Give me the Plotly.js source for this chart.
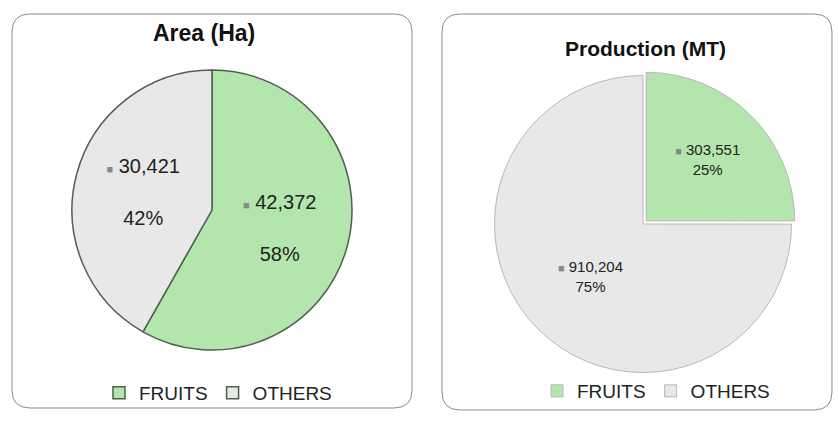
<!DOCTYPE html>
<html><head><meta charset="utf-8">
<script src="https://cdn.plot.ly/plotly-3.0.1.min.js"></script>
<style>html,body{margin:0;padding:0;background:#fff}#chart{width:838px;height:421px}</style>
</head><body><div id="chart"></div>
<script>
const categories = ["FRUITS", "OTHERS"];
const areaValues = [42372, 30421];
const productionValues = [303551, 910204];
const chartTitles = ["Area (Ha)", "Production (MT)"];

const W = 838, H = 421;
const colors = ["#b2e6ac", "#e8e8e8"];
const FONT = "Liberation Sans, Arial, sans-serif";

// pie legends merge items by label; a zero-width char keeps the second legend separate
const categories2 = categories.map(c => c + "\u200b");

function roundRect(x0, y0, x1, y1, r) {
  const px = v => (v / W).toFixed(5);
  const py = v => (1 - v / H).toFixed(5);
  return `M ${px(x0 + r)},${py(y0)} L ${px(x1 - r)},${py(y0)} Q ${px(x1)},${py(y0)} ${px(x1)},${py(y0 + r)} ` +
         `L ${px(x1)},${py(y1 - r)} Q ${px(x1)},${py(y1)} ${px(x1 - r)},${py(y1)} ` +
         `L ${px(x0 + r)},${py(y1)} Q ${px(x0)},${py(y1)} ${px(x0)},${py(y1 - r)} ` +
         `L ${px(x0)},${py(y0 + r)} Q ${px(x0)},${py(y0)} ${px(x0 + r)},${py(y0)} Z`;
}

const key = "<span style='color:#8a8a8a;font-size:11px'>■</span> ";

const traces = [
  {
    type: "pie", labels: categories, values: areaValues, sort: false,
    direction: "clockwise", rotation: 0,
    domain: {x: [70 / W, 354 / W], y: [1 - 350 / H, 1 - 70 / H]},
    marker: {colors: colors, line: {color: "#4f5f4f", width: 1.5}},
    texttemplate: key + "%{value:,}<br><br>%{percent:.0%}",
    textposition: "inside", insidetextorientation: "horizontal",
    textfont: {family: FONT, size: 20, color: "#222"},
    hoverinfo: "label+value+percent",
    legend: "legend", showlegend: true
  },
  {
    type: "pie", labels: categories2, values: productionValues, sort: false,
    direction: "clockwise", rotation: 0, pull: [0.03, 0],
    domain: {x: [490 / W, 796 / W], y: [1 - 377 / H, 1 - 71 / H]},
    marker: {colors: colors, line: {color: "#b8b8b8", width: 1}},
    texttemplate: key + "%{value:,}<br>%{percent:.0%}",
    textposition: "inside", insidetextorientation: "horizontal",
    textfont: {family: FONT, size: 15, color: "#222"},
    hoverinfo: "label+value+percent",
    legend: "legend2", showlegend: true
  }
];

const layout = {
  width: W, height: H,
  margin: {l: 0, r: 0, t: 0, b: 0},
  paper_bgcolor: "#fff",
  showlegend: true,
  legend: {
    orientation: "h", x: 218 / W, xanchor: "center", y: 1 - 393 / H, yanchor: "middle",
    font: {family: FONT, size: 19, color: "#222"}, bgcolor: "rgba(0,0,0,0)",
    itemwidth: 30, traceorder: "normal"
  },
  legend2: {
    orientation: "h", x: 656 / W, xanchor: "center", y: 1 - 391 / H, yanchor: "middle",
    font: {family: FONT, size: 19, color: "#222"}, bgcolor: "rgba(0,0,0,0)",
    itemwidth: 30, traceorder: "normal"
  },
  shapes: [
    {type: "path", xref: "paper", yref: "paper", path: roundRect(12, 14, 412, 408, 18), line: {color: "#8a8a8a", width: 1}},
    {type: "path", xref: "paper", yref: "paper", path: roundRect(442, 14, 832, 410, 18), line: {color: "#8a8a8a", width: 1}}
  ],
  annotations: [
    {text: "<b>" + chartTitles[0] + "</b>", xref: "paper", yref: "paper", x: 204 / W, y: 1 - 33 / H,
     xanchor: "center", yanchor: "middle",
     showarrow: false, font: {family: FONT, size: 23, color: "#111"}},
    {text: "<b>" + chartTitles[1] + "</b>", xref: "paper", yref: "paper", x: 645 / W, y: 1 - 48 / H,
     xanchor: "center", yanchor: "middle",
     showarrow: false, font: {family: FONT, size: 21, color: "#111"}}
  ]
};

Plotly.newPlot("chart", traces, layout, {displayModeBar: false, staticPlot: true});
</script>
</body></html>
